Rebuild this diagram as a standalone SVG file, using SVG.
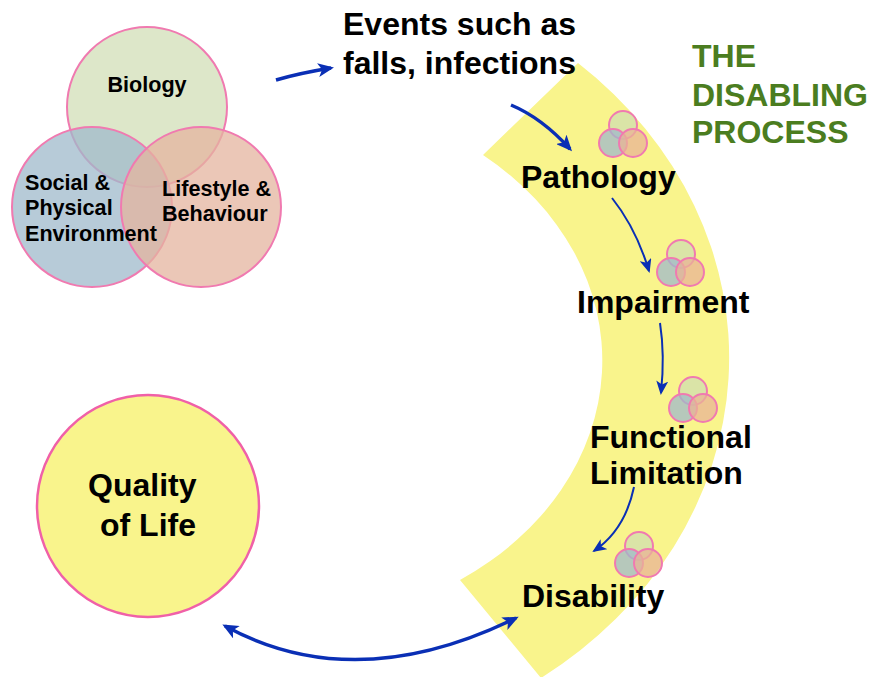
<svg xmlns="http://www.w3.org/2000/svg" width="885" height="677" viewBox="0 0 885 677">
<style>
.t{font-family:"Liberation Sans",Arial,sans-serif;font-weight:bold;fill:#000}
.big{font-size:32px}
.mid{font-size:21.6px}
.green{font-family:"Liberation Sans",Arial,sans-serif;font-weight:bold;font-size:32px;fill:#4b7d20}
.vb{fill:#d2dfb7;fill-opacity:0.75;stroke:#f07ab0;stroke-width:2}
.vs{fill:#9fbacb;fill-opacity:0.75;stroke:#f07ab0;stroke-width:2}
.vl{fill:#e4b49f;fill-opacity:0.75;stroke:#f07ab0;stroke-width:2}
.ib{fill:#cfdfb0;fill-opacity:0.75;stroke:#f07ab0;stroke-width:2}
.is{fill:#9fbacb;fill-opacity:0.75;stroke:#f07ab0;stroke-width:2}
.il{fill:#e8b496;fill-opacity:0.75;stroke:#f07ab0;stroke-width:2}
.thick{fill:none;stroke:#0a2fb5;stroke-width:3.5}
.thin{fill:none;stroke:#0a2fb5;stroke-width:2}
</style>
<defs>
<marker id="ah" viewBox="0 0 16 14" refX="13" refY="7" markerWidth="16" markerHeight="14" markerUnits="userSpaceOnUse" orient="auto-start-reverse">
<path d="M0,0 L16,7 L0,14 L4,7 z" fill="#0a2fb5"/>
</marker>
<marker id="ahs" viewBox="0 0 14 12" refX="12" refY="6" markerWidth="14" markerHeight="12" markerUnits="userSpaceOnUse" orient="auto-start-reverse">
<path d="M0,0 L14,6 L0,12 L3.5,6 z" fill="#0a2fb5"/>
</marker>
</defs>
<rect width="885" height="677" fill="#fff"/>
<g id="band">
<path d="M483,155 L578,63 A453,395 0 0 1 541,678 L460,580 A322,264.5 0 0 0 483,155 Z" fill="#f9f48c"/>
</g>
<g id="venn">
<circle class="vb" cx="147" cy="107" r="80"/>
<circle class="vs" cx="92" cy="207" r="80"/>
<circle class="vl" cx="201" cy="207" r="80"/>
<text class="t mid" x="147" y="92" text-anchor="middle">Biology</text>
<text class="t mid" x="25" y="190">Social &amp;</text>
<text class="t mid" x="25" y="215">Physical</text>
<text class="t mid" x="25" y="241">Environment</text>
<text class="t mid" x="162" y="196">Lifestyle &amp;</text>
<text class="t mid" x="162" y="221">Behaviour</text>
</g>
<g id="events">
<text class="t big" x="343" y="35">Events such as</text>
<text class="t big" x="343" y="74">falls, infections</text>
</g>
<g id="title">
<text class="green" x="692" y="67">THE</text>
<text class="green" x="692" y="106">DISABLING</text>
<text class="green" x="692" y="143">PROCESS</text>
</g>
<g id="icon-pathology">
<circle class="ib" cx="623" cy="125" r="14"/>
<circle class="is" cx="613" cy="143" r="14"/>
<circle class="il" cx="633" cy="143" r="14"/>
</g>
<g id="icon-impairment">
<circle class="ib" cx="681" cy="254" r="14"/>
<circle class="is" cx="671" cy="272" r="14"/>
<circle class="il" cx="690" cy="272" r="14"/>
</g>
<g id="icon-functional">
<circle class="ib" cx="693" cy="391" r="14"/>
<circle class="is" cx="683" cy="408" r="14"/>
<circle class="il" cx="703" cy="408" r="14"/>
</g>
<g id="icon-disability">
<circle class="ib" cx="639" cy="546" r="14"/>
<circle class="is" cx="629" cy="563" r="14"/>
<circle class="il" cx="648" cy="563" r="14"/>
</g>
<g id="pathology"><text class="t big" x="521" y="188">Pathology</text></g>
<g id="impairment"><text class="t big" x="577" y="313">Impairment</text></g>
<g id="functional">
<text class="t big" x="590" y="448">Functional</text>
<text class="t big" x="590" y="484">Limitation</text>
</g>
<g id="disability"><text class="t big" x="522" y="607">Disability</text></g>
<g id="quality">
<circle cx="148" cy="506" r="111" fill="#f9f48c" stroke="#f060a8" stroke-width="2.5"/>
<text class="t big" x="88" y="496">Quality</text>
<text class="t big" x="100" y="536">of Life</text>
</g>
<g id="connectors">
<path class="thick" d="M276,80 Q300,73 331,68" marker-end="url(#ah)"/>
<path class="thick" d="M511,105 Q542,118 570,149" marker-end="url(#ah)"/>
<path class="thin" d="M612,198 Q636,228 649,271" marker-end="url(#ahs)"/>
<path class="thin" d="M660,323 Q665,355 661,393" marker-end="url(#ahs)"/>
<path class="thin" d="M634,487 Q625,530 594,551" marker-end="url(#ahs)"/>
<path class="thick" d="M225,626 Q355,697 516,618" marker-start="url(#ah)" marker-end="url(#ah)"/>
</g>
</svg>
